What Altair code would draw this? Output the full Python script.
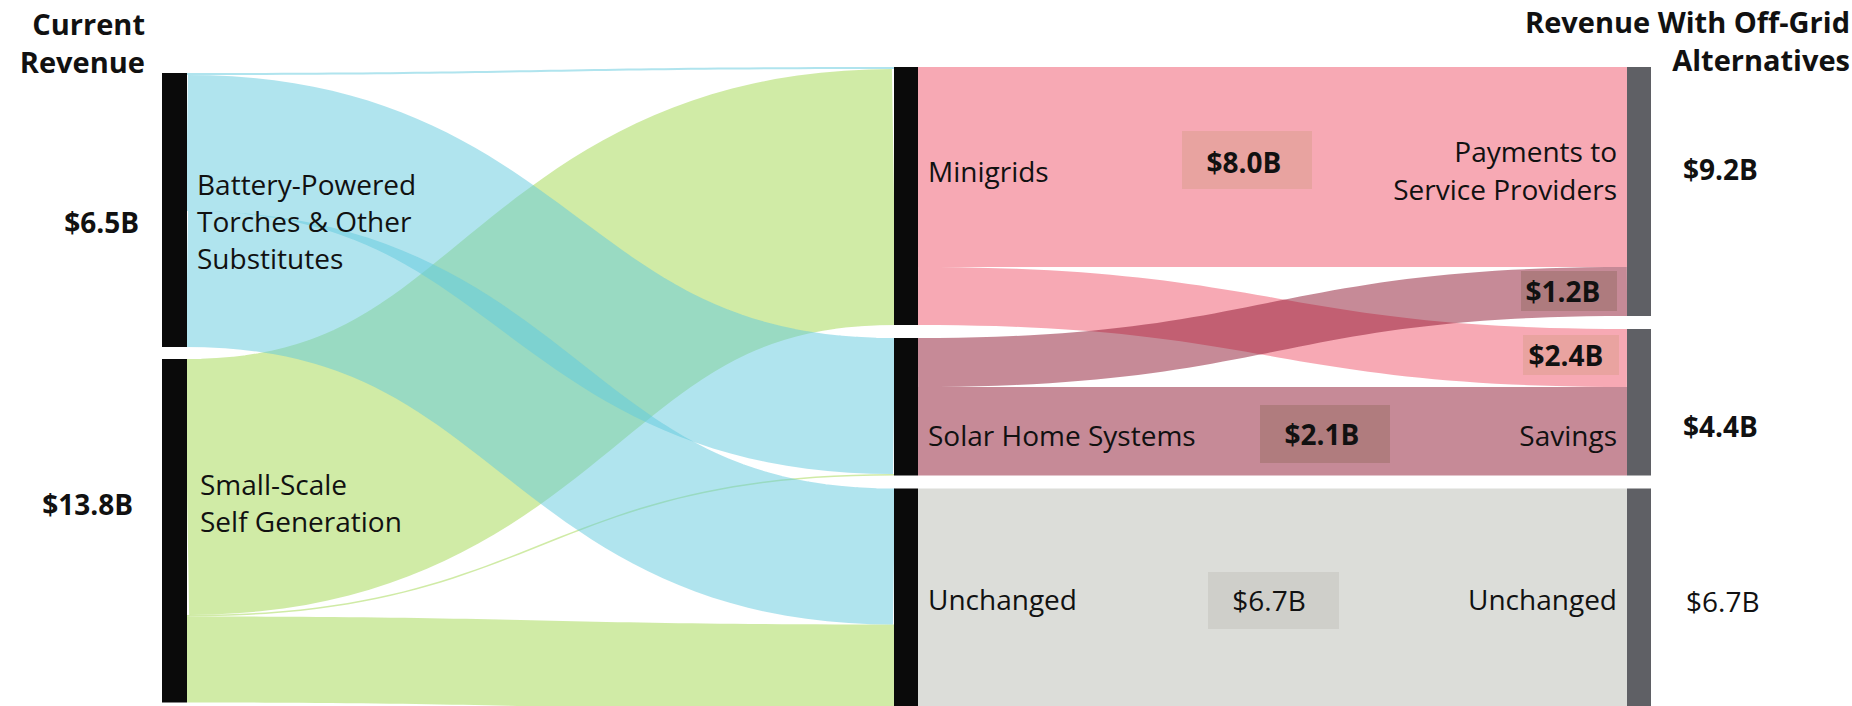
import altair as alt
import pandas as pd

# ---------------- data ----------------
# node ids by column (left -> middle -> right)
col0_nodes = ["battery", "small"]
col1_nodes = ["minigrids", "shs", "unchanged"]
col2_nodes = ["payments", "savings", "unchanged_after"]

# flows (drawn band thickness)
link_source = ["battery", "battery", "battery", "small", "small", "small",
               "minigrids", "minigrids", "shs", "shs", "unchanged"]
link_target = ["minigrids", "shs", "unchanged", "minigrids", "shs", "unchanged",
               "payments", "savings", "payments", "savings", "unchanged_after"]
link_value = [0.2, 13.6, 13.6, 25.6, 0.15, 8.6,
              20.0, 5.8, 4.9, 8.85, 22.2]

node_labels = ["Battery-Powered\nTorches & Other\nSubstitutes", "Small-Scale\nSelf Generation",
               "Minigrids", "Solar Home Systems", "Unchanged",
               "Payments to\nService Providers", "Savings", "Unchanged"]
left_totals = ["$6.5B", "$13.8B"]
right_totals_bold = ["$9.2B", "$4.4B"]
right_totals_plain = ["$6.7B"]
flow_labels_bold = ["$8.0B", "$2.4B", "$1.2B", "$2.1B"]
flow_labels_plain = ["$6.7B"]
title_left = "Current\nRevenue"
title_right = "Revenue With Off-Grid\nAlternatives"

# ---------------- layout / style ----------------
W, H = 1852, 706
UNIT_PX = 10.0
Y_MAX = H / UNIT_PX
cols = [col0_nodes, col1_nodes, col2_nodes]
col_x = [162, 894, 1627]
bar_w = [25, 24, 24]
col_top = [7.3, 6.7, 6.7]
col_gap = [1.2, 1.3, 1.3]
bar_color = ["#0a0a0a", "#0a0a0a", "#5f6065"]
link_color = {"small": "#a1d74d", "battery": "#61c9dd", "minigrids": "#ef5369",
              "shs": "#8d152f", "unchanged": "#b9bbb3"}
draw_order = ["small", "battery", "minigrids", "shs", "unchanged"]
FONT = "Open Sans"
INK = "#111111"
DY = 0.25  # small downward nudge for middle-baseline text

# ---------------- sankey layout from the data ----------------
node_col, node_rank = {}, {}
for c, ids in enumerate(cols):
    for r, n in enumerate(ids):
        node_col[n] = c
        node_rank[n] = r
node_val = {}
for n in node_col:
    vin = sum(v for s, t, v in zip(link_source, link_target, link_value) if t == n)
    vout = sum(v for s, t, v in zip(link_source, link_target, link_value) if s == n)
    node_val[n] = max(vin, vout)
node_y0 = {}
for c, ids in enumerate(cols):
    y = col_top[c]
    for n in ids:
        node_y0[n] = y
        y += node_val[n] + col_gap[c]

links = list(zip(range(len(link_value)), link_source, link_target, link_value))
out_off = dict(node_y0)
in_off = dict(node_y0)
sy, ty = {}, {}
for i, s, t, v in sorted(links, key=lambda l: (node_rank[l[1]], node_col[l[1]], node_rank[l[2]])):
    sy[i] = out_off[s] + v / 2
    out_off[s] += v
for i, s, t, v in sorted(links, key=lambda l: (node_rank[l[2]], node_col[l[2]], node_rank[l[1]])):
    ty[i] = in_off[t] + v / 2
    in_off[t] += v

links_df = pd.DataFrame([{
    "link": i, "source": s, "target": t, "value": v,
    "sx": col_x[node_col[s]] + bar_w[node_col[s]], "tx": col_x[node_col[t]],
    "sy": sy[i], "ty": ty[i]} for i, s, t, v in links])

nodes_df = pd.DataFrame([{
    "node": n, "x0": col_x[node_col[n]], "x1": col_x[node_col[n]] + bar_w[node_col[n]],
    "y0": node_y0[n], "y1": node_y0[n] + node_val[n], "color": bar_color[node_col[n]]}
    for n in node_col])

xs = alt.Scale(domain=[0, W], nice=False, zero=False)
ys = alt.Scale(domain=[0, Y_MAX], nice=False, zero=False, reverse=True)
sws = alt.Scale(domain=[0, Y_MAX], range=[0, H], nice=False, zero=True)


def link_layer(src):
    return alt.Chart(links_df).transform_filter(
        alt.datum.source == src
    ).transform_calculate(
        t="sequence(0, 1.0001, 0.02)"
    ).transform_flatten(["t"]).transform_calculate(
        px="pow(1-datum.t,3)*datum.sx + 3*datum.t*(1-datum.t)*(datum.sx+datum.tx)/2 + pow(datum.t,3)*datum.tx",
        py="datum.sy + (datum.ty-datum.sy)*(3*datum.t*datum.t - 2*pow(datum.t,3))",
    ).mark_line(color=link_color[src], opacity=0.5, strokeCap="butt").encode(
        x=alt.X("px:Q", scale=xs, axis=None),
        y=alt.Y("py:Q", scale=ys, axis=None),
        strokeWidth=alt.StrokeWidth("value:Q", scale=sws, legend=None),
        detail="link:N",
        order="t:Q",
    )


layers = [link_layer(s) for s in draw_order]

layers.append(alt.Chart(nodes_df).mark_rect().encode(
    x=alt.X("x0:Q", scale=xs, axis=None), x2="x1:Q",
    y=alt.Y("y0:Q", scale=ys, axis=None), y2="y1:Q",
    color=alt.Color("color:N", scale=None),
))

# label boxes for the flow values
box_x0 = [1182, 1523, 1521, 1260, 1208]
box_x1 = [1312, 1619, 1617, 1390, 1339]
box_y0 = [13.1, 33.5, 27.1, 40.5, 57.2]
box_y1 = [18.9, 37.5, 31.1, 46.3, 62.9]
box_fill = ["#e8a3a0", "#e9a3a0", "#ae7b7e", "#b07c7e", "#cfcfca"]
boxes_df = pd.DataFrame({"x0": box_x0, "x1": box_x1, "y0": box_y0, "y1": box_y1, "fill": box_fill})
layers.append(alt.Chart(boxes_df).mark_rect().encode(
    x=alt.X("x0:Q", scale=xs, axis=None), x2="x1:Q",
    y=alt.Y("y0:Q", scale=ys, axis=None), y2="y1:Q",
    color=alt.Color("fill:N", scale=None),
))


def text_layer(texts, xpos, ypos, align, weight="normal", size=28, baseline="middle", line_height=37):
    off = DY if baseline == "middle" else 0
    df = pd.DataFrame({"text": texts, "x": xpos, "y": [v + off for v in ypos]})
    return alt.Chart(df).mark_text(
        align=align, baseline=baseline, font=FONT, fontSize=size, fontWeight=weight,
        color=INK, lineBreak="\n", lineHeight=line_height,
    ).encode(
        x=alt.X("x:Q", scale=xs, axis=None),
        y=alt.Y("y:Q", scale=ys, axis=None),
        text="text:N",
    )


layers += [
    text_layer(node_labels[:5], [197, 200, 928, 928, 928], [18.4, 48.4, 17.1, 43.5, 59.9], "left"),
    text_layer(node_labels[5:], [1617, 1617, 1617], [15.1, 43.5, 59.9], "right", line_height=38),
    text_layer(left_totals, [139, 133], [22.2, 50.4], "right", weight="bold"),
    text_layer(right_totals_bold, [1683, 1683], [16.9, 42.6], "left", weight="bold"),
    text_layer(right_totals_plain, [1686], [60.1], "left"),
    text_layer(flow_labels_bold, [1244, 1566, 1563, 1322], [16.2, 35.5, 29.1, 43.4], "center", weight="bold"),
    text_layer(flow_labels_plain, [1269], [60.0], "center"),
    text_layer([title_left], [145], [3.5], "right", weight="bold", size=29, baseline="alphabetic", line_height=38),
    text_layer([title_right], [1850], [3.3], "right", weight="bold", size=29, baseline="alphabetic", line_height=38),
]

chart = alt.layer(*layers).properties(
    width=W, height=H, padding=0, autosize=alt.AutoSizeParams(type="none"),
    background="white",
).configure_view(stroke=None)

chart.save("out.html", embed_options={"renderer": "svg", "actions": False})
